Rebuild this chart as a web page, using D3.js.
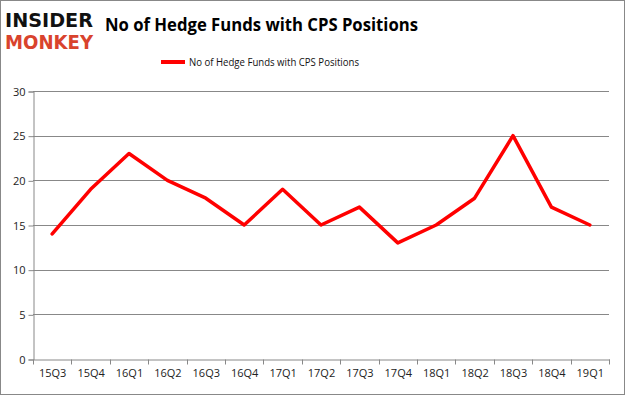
<!DOCTYPE html>
<html>
<head>
<meta charset="utf-8">
<script src="https://cdn.jsdelivr.net/npm/d3@7"></script>
<style>
  body { margin: 0; background: #fff; }
  text { font-family: "Open Sans", "DejaVu Sans", sans-serif; }
</style>
</head>
<body>
<div id="chart"></div>
<script>
// hedge fund count per quarter
const quarters = ["15Q3", "15Q4", "16Q1", "16Q2", "16Q3", "16Q4", "17Q1", "17Q2",
  "17Q3", "17Q4", "18Q1", "18Q2", "18Q3", "18Q4", "19Q1"];
const funds = [14, 19, 23, 20, 18, 15, 19, 15, 17, 13, 15, 18, 25, 17, 15];
const yTicks = [0, 5, 10, 15, 20, 25, 30];
const seriesName = "No of Hedge Funds with CPS Positions";

const W = 625, H = 395;
const plotL = 33, plotR = 609, plotT = 91, plotB = 359;

const svg = d3.select("#chart").append("svg")
  .attr("width", W)
  .attr("height", H);

svg.append("rect")
  .attr("x", 0.5).attr("y", 0.5)
  .attr("width", W - 1).attr("height", H - 1)
  .attr("fill", "#fff")
  .attr("stroke", "#888");

// logo
svg.append("text")
  .attr("x", 5).attr("y", 26.5)
  .attr("textLength", 88).attr("lengthAdjust", "spacingAndGlyphs")
  .style("font-family", "DejaVu Sans")
  .style("font-weight", "bold").style("font-size", "19px")
  .attr("fill", "#111")
  .text("INSIDER");
svg.append("text")
  .attr("x", 5).attr("y", 49)
  .attr("textLength", 88).attr("lengthAdjust", "spacingAndGlyphs")
  .style("font-family", "DejaVu Sans")
  .style("font-weight", "bold").style("font-size", "19px")
  .attr("fill", "#d9432d")
  .text("MONKEY");

svg.append("text")
  .attr("x", 105).attr("y", 31)
  .attr("textLength", 313).attr("lengthAdjust", "spacingAndGlyphs")
  .style("font-weight", "bold").style("font-size", "18px")
  .attr("fill", "#000")
  .text("No of Hedge Funds with CPS Positions");

// legend
svg.append("line")
  .attr("x1", 161).attr("x2", 185)
  .attr("y1", 62).attr("y2", 62)
  .attr("stroke", "red").attr("stroke-width", 4);
svg.append("text")
  .attr("x", 189).attr("y", 66)
  .attr("textLength", 170).attr("lengthAdjust", "spacingAndGlyphs")
  .style("font-size", "10.5px")
  .attr("fill", "#111")
  .text(seriesName);

const x = d3.scaleBand().domain(quarters).range([plotL, plotR]);
const y = d3.scaleLinear().domain([0, 30]).range([plotB, plotT]);

// gridlines
svg.append("g")
  .selectAll("line")
  .data(yTicks.filter(d => d > 0))
  .enter().append("line")
  .attr("x1", plotL).attr("x2", plotR)
  .attr("y1", d => Math.round(y(d)) + 0.5)
  .attr("y2", d => Math.round(y(d)) + 0.5)
  .attr("stroke", "#888");

const yAxis = svg.append("g")
  .attr("transform", `translate(${plotL + 0.5},0.5)`)
  .call(d3.axisLeft(y).tickValues(yTicks).tickSize(5).tickPadding(3));

const xAxis = svg.append("g")
  .attr("transform", `translate(0.5,${plotB + 0.5})`)
  .call(d3.axisBottom(x).tickSize(0).tickPadding(10));

// tick marks on category boundaries
xAxis.selectAll(".bound")
  .data(d3.range(quarters.length + 1))
  .enter().append("line")
  .attr("x1", i => Math.round(plotL + i * x.step()))
  .attr("x2", i => Math.round(plotL + i * x.step()))
  .attr("y1", 0).attr("y2", 5)
  .attr("stroke", "#888");

[yAxis, xAxis].forEach(a => {
  a.selectAll(".domain").attr("stroke", "#888");
  a.selectAll(".tick line").attr("stroke", "#888");
  a.selectAll("text")
    .style("font-family", "\"Open Sans\", sans-serif")
    .style("font-size", "11px")
    .attr("fill", "#222");
});

const line = d3.line()
  .x((d, i) => x(quarters[i]) + x.bandwidth() / 2)
  .y(d => y(d));

svg.append("path")
  .datum(funds)
  .attr("d", line)
  .attr("fill", "none")
  .attr("stroke", "red")
  .attr("stroke-width", 3.5)
  .attr("stroke-linejoin", "round")
  .attr("stroke-linecap", "round");
</script>
</body>
</html>
